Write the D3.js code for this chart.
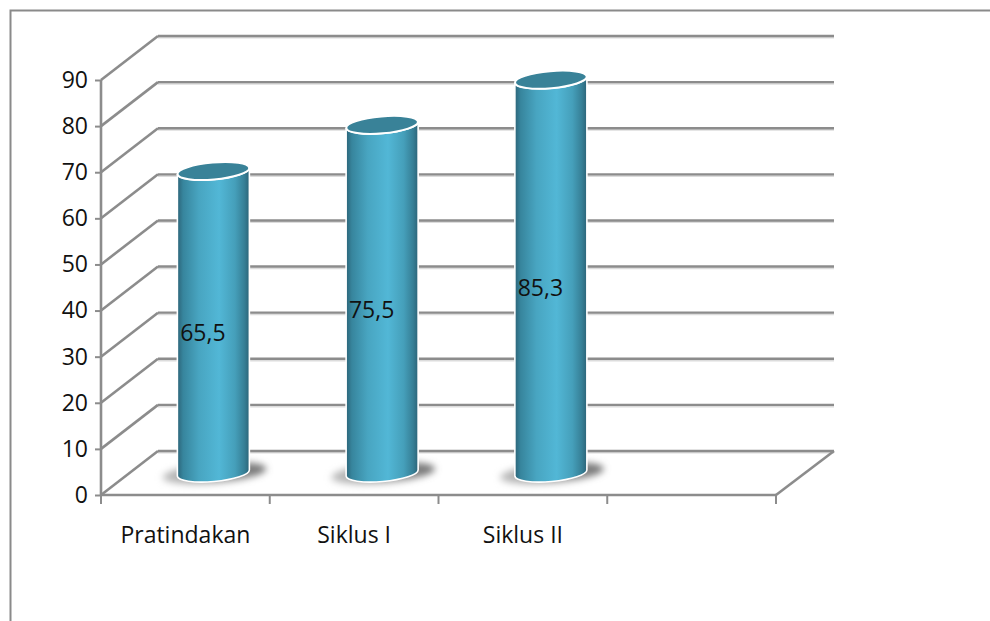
<!DOCTYPE html>
<html><head><meta charset="utf-8">
<script src="https://cdn.jsdelivr.net/npm/d3@7"></script>
<style>html,body{margin:0;padding:0;background:#fff}svg{display:block}text{font-family:"Open Sans",Lato,sans-serif;fill:#111}</style>
</head><body><svg id="c" width="990" height="621"></svg>
<script>
const categories = ["Pratindakan", "Siklus I", "Siklus II", ""];
const values = [65.5, 75.5, 85.3];
const valueLabels = ["65,5", "75,5", "85,3"];
const yTicks = [0, 10, 20, 30, 40, 50, 60, 70, 80, 90];

const svg = d3.select("#c");
const x = d3.scaleBand().domain(categories).range([101, 776]);
const y = d3.scaleLinear().domain([0, 90]).range([495, 80]);
const depthX = 57, depthY = 44;
const grey = "#8c8c8c";
const fontSize = 23;

const defs = svg.append("defs");
const grad = defs.append("linearGradient").attr("id", "cyl");
[[0, "#2c6478"], [0.08, "#37859d"], [0.3, "#48a5c1"], [0.58, "#52b7d6"], [0.8, "#459fba"], [0.93, "#367f96"], [1, "#2c6478"]]
  .forEach(s => grad.append("stop").attr("offset", s[0]).attr("stop-color", s[1]));
const shadowGrad = defs.append("linearGradient").attr("id", "shadow");
[[0, "#bdbdbd"], [0.6, "#949494"], [1, "#6e6e6e"]]
  .forEach(s => shadowGrad.append("stop").attr("offset", s[0]).attr("stop-color", s[1]));
defs.append("filter").attr("id", "blur").attr("x", "-30%").attr("y", "-80%").attr("width", "160%").attr("height", "260%")
  .append("feGaussianBlur").attr("stdDeviation", 3.5);

// outer frame
svg.append("path").attr("d", "M10.5,621V10.5H990").attr("fill", "none").attr("stroke", "#8a8a8a").attr("stroke-width", 2);

// wall line shadows, then walls
const wallShadow = svg.append("g").attr("stroke", "#dcdcdc").attr("fill", "none").attr("stroke-width", 2);
wallShadow.selectAll("line").data(yTicks).join("line")
  .attr("x1", x.range()[0] + depthX).attr("x2", x.range()[1] + depthX + 1)
  .attr("y1", d => y(d) - depthY + 1.6).attr("y2", d => y(d) - depthY + 1.6);
const wall = svg.append("g").attr("stroke", grey).attr("fill", "none");
wall.selectAll("line.back").data(yTicks).join("line").attr("class", "back")
  .attr("x1", x.range()[0] + depthX).attr("x2", x.range()[1] + depthX + 1)
  .attr("y1", d => y(d) - depthY).attr("y2", d => y(d) - depthY).attr("stroke-width", 2.4);
wall.selectAll("line.side").data(yTicks).join("line").attr("class", "side")
  .attr("x1", x.range()[0]).attr("x2", x.range()[0] + depthX)
  .attr("y1", d => y(d)).attr("y2", d => y(d) - depthY).attr("stroke-width", 2.6);
wall.append("line").attr("x1", x.range()[1]).attr("y1", y(0)).attr("x2", x.range()[1] + depthX + 1).attr("y2", y(0) - depthY).attr("stroke-width", 2.6);

// axes
const yAxis = d3.axisLeft(y).tickValues(yTicks).tickSize(6).tickPadding(7);
const gy = svg.append("g").attr("transform", `translate(${x.range()[0]},0)`).call(yAxis);
const xAxis = d3.axisBottom(x).tickSize(0).tickPadding(32);
const gx = svg.append("g").attr("transform", `translate(0,${y(0)})`).call(xAxis);
gx.selectAll(".tick").filter(d => d === "").remove();
const boundaries = categories.map(c => x(c)).concat([x.range()[1]]);
gx.selectAll("line.bt").data(boundaries).join("line").attr("class", "bt")
  .attr("x1", d => d).attr("x2", d => d).attr("y1", 0).attr("y2", 9)
  .attr("stroke", grey).attr("stroke-width", 2);
[gx, gy].forEach(g => {
  g.selectAll(".domain").attr("stroke", grey).attr("stroke-width", 2.6);
  g.selectAll(".tick line").attr("stroke", grey).attr("stroke-width", 2);
  g.selectAll("text").attr("font-size", fontSize).style("font-family", '"Open Sans"').style("fill", "#111");
});
gx.selectAll(".domain").attr("d", `M${x.range()[0]},0H${x.range()[1]}`);
gy.selectAll(".domain").attr("d", `M0,${y(90)}V${y(0)}`);

// cylinders
const rx = 36, ry = 8.5, tilt = -5, baseShift = 22;
const cx = (_, i) => x(categories[i]) + x.bandwidth() / 2 + 28;
const slope = Math.tan(tilt * Math.PI / 180) * rx;
const bars = svg.append("g").selectAll("g").data(values).join("g");
bars.append("ellipse")
  .attr("cx", (d, i) => cx(d, i) + 1).attr("cy", y(0) - baseShift)
  .attr("rx", rx + 16).attr("ry", ry + 1.5)
  .attr("transform", (d, i) => `rotate(${tilt} ${cx(d, i) + 1} ${y(0) - baseShift})`)
  .attr("fill", "url(#shadow)").attr("filter", "url(#blur)");
bars.append("path")
  .attr("d", (d, i) => {
    const c = cx(d, i), t = y(d) - baseShift, b = y(0) - baseShift;
    return `M${c - rx},${t - slope}L${c - rx},${b - slope}` +
      `A${rx},${ry} ${tilt} 0 0 ${c + rx},${b + slope}` +
      `L${c + rx},${t + slope}` +
      `A${rx},${ry} ${tilt} 0 1 ${c - rx},${t - slope}Z`;
  })
  .attr("fill", "url(#cyl)").attr("stroke", "#fff").attr("stroke-width", 1.6);
bars.append("ellipse")
  .attr("cx", (d, i) => cx(d, i)).attr("cy", d => y(d) - baseShift)
  .attr("rx", rx).attr("ry", ry)
  .attr("transform", (d, i) => `rotate(${tilt} ${cx(d, i)} ${y(d) - baseShift})`)
  .attr("fill", "#398298").attr("stroke", "#fff").attr("stroke-width", 2);
bars.append("text")
  .attr("x", (d, i) => cx(d, i) - 10.5).attr("y", d => y(d / 2) - 11)
  .attr("text-anchor", "middle").attr("dy", "0.36em").attr("font-size", fontSize)
  .text((d, i) => valueLabels[i]);
</script></body></html>
